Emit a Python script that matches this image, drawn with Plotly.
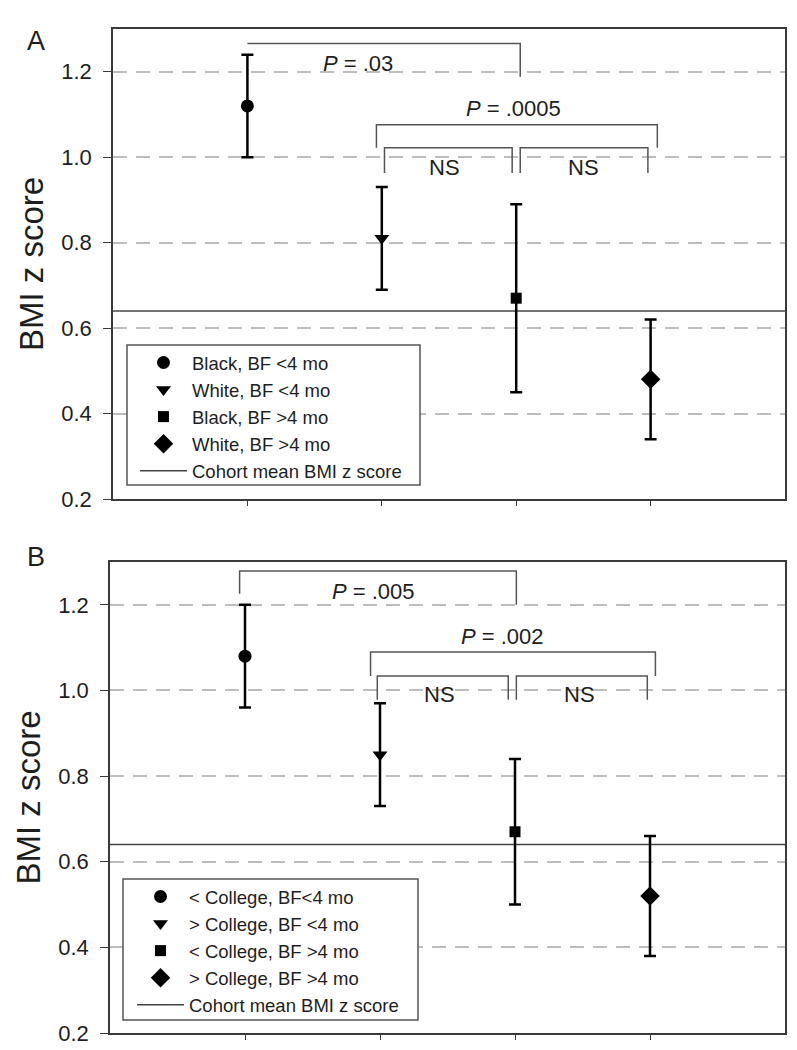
import plotly.graph_objects as go

# ---------------- data ----------------
groups_A = ["Black, BF <4 mo", "White, BF <4 mo", "Black, BF >4 mo", "White, BF >4 mo"]
groups_B = ["< College, BF<4 mo", "> College, BF <4 mo", "< College, BF >4 mo", "> College, BF >4 mo"]
positions = [1, 2, 3, 4]
symbols = ["circle", "triangle-down", "square", "diamond"]
sizes = [13, 13, 11, 15]

mean_A = [1.12, 0.81, 0.67, 0.48]
upper_A = [1.24, 0.93, 0.89, 0.62]
lower_A = [1.00, 0.69, 0.45, 0.34]

mean_B = [1.08, 0.85, 0.67, 0.52]
upper_B = [1.20, 0.97, 0.84, 0.66]
lower_B = [0.96, 0.73, 0.50, 0.38]

cohort_mean = 0.64
cohort_label = "Cohort mean BMI z score"

y_ticks = [0.2, 0.4, 0.6, 0.8, 1.0, 1.2]
y_range = [0.2, 1.3]
x_range = [0, 5]

# brackets: (x_left, x_right, y_bar, y_left_end, y_right_end)
brackets_A = [
    (1.00, 3.03, 1.266, 1.266, 1.188),
    (1.96, 4.05, 1.076, 1.022, 1.022),
    (2.02, 2.97, 1.022, 0.963, 0.963),
    (3.03, 3.98, 1.022, 0.963, 0.963),
]
labels_A = [("<i>P</i> = .03", 1.82, 1.219), ("<i>P</i> = .0005", 2.98, 1.113),
            ("NS", 2.47, 0.975), ("NS", 3.50, 0.975)]

brackets_B = [
    (0.96, 3.01, 1.279, 1.226, 1.200),
    (1.93, 4.04, 1.090, 1.034, 1.034),
    (1.98, 2.95, 1.034, 0.978, 0.978),
    (3.01, 3.98, 1.034, 0.978, 0.978),
]
labels_B = [("<i>P</i> = .005", 1.95, 1.230), ("<i>P</i> = .002", 2.91, 1.127),
            ("NS", 2.44, 0.990), ("NS", 3.48, 0.990)]

# ---------------- layout helpers ----------------
W, H = 797, 1050
FONT = "Liberation Sans, Arial, sans-serif"
DARK = "#3a3a3a"
TXT = "#1e1e1e"


def px_x(p):
    return p / W


def px_y(p):
    return 1 - p / H


fig = go.Figure()

panels = [
    dict(names=groups_A, mean=mean_A, up=upper_A, lo=lower_A, xa="x", ya="y", legend="legend",
         brackets=brackets_A, labels=labels_A),
    dict(names=groups_B, mean=mean_B, up=upper_B, lo=lower_B, xa="x2", ya="y2", legend="legend2",
         brackets=brackets_B, labels=labels_B),
]

shapes = []
annotations = []

for p in panels:
    # cohort mean line
    fig.add_trace(go.Scatter(
        x=x_range, y=[cohort_mean, cohort_mean], mode="lines",
        line=dict(color="#444444", width=1.5), name=cohort_label,
        xaxis=p["xa"], yaxis=p["ya"], legend=p["legend"], legendrank=10,
        hoverinfo="skip"))
    for i, name in enumerate(p["names"]):
        fig.add_trace(go.Scatter(
            x=[positions[i]], y=[p["mean"][i]], mode="markers",
            marker=dict(symbol=symbols[i], size=sizes[i], color="black"),
            error_y=dict(type="data", symmetric=False,
                         array=[p["up"][i] - p["mean"][i]],
                         arrayminus=[p["mean"][i] - p["lo"][i]],
                         color="black", thickness=2.5, width=6),
            name=name, xaxis=p["xa"], yaxis=p["ya"], legend=p["legend"], legendrank=i + 1))
    for (x0, x1, yb, yl, yr) in p["brackets"]:
        shapes.append(dict(type="path", xref=p["xa"], yref=p["ya"],
                           path=f"M {x0},{yl} L {x0},{yb} L {x1},{yb} L {x1},{yr}",
                           line=dict(color="#555555", width=1.5)))
    for (txt, xx, yy) in p["labels"]:
        annotations.append(dict(text=txt, x=xx, y=yy, xref=p["xa"], yref=p["ya"],
                                showarrow=False, font=dict(size=22, color=TXT, family=FONT)))

# legend boxes (white background with border)
shapes.append(dict(type="rect", xref="paper", yref="paper", layer="above",
                   x0=px_x(127), x1=px_x(420), y0=px_y(485), y1=px_y(345),
                   fillcolor="white", line=dict(color="#555555", width=1.5)))
shapes.append(dict(type="rect", xref="paper", yref="paper", layer="above",
                   x0=px_x(123), x1=px_x(418), y0=px_y(1020), y1=px_y(879),
                   fillcolor="white", line=dict(color="#555555", width=1.5)))

# panel letters
annotations.append(dict(text="A", x=px_x(25), y=px_y(24), xref="paper", yref="paper",
                        showarrow=False, font=dict(size=27, color=TXT, family=FONT)))
annotations.append(dict(text="B", x=px_x(25), y=px_y(557), xref="paper", yref="paper",
                        showarrow=False, font=dict(size=27, color=TXT, family=FONT)))

yaxis_common = dict(range=y_range, tickvals=y_ticks, tickformat=".1f", automargin=False,
                    ticks="outside", ticklen=8, tickcolor=DARK, tickwidth=1.2,
                    ticklabelstandoff=7,
                    showline=True, linecolor=DARK, linewidth=1.5, mirror=True,
                    showgrid=True, gridcolor="#bdbdbd", gridwidth=1.5, griddash="14px,9px",
                    zeroline=False, tickfont=dict(size=22, color=TXT, family=FONT),
                    title=dict(text="BMI z score", font=dict(size=33, color=TXT, family=FONT),
                               standoff=8))
xaxis_common = dict(range=x_range, tickvals=positions, showticklabels=False, automargin=False,
                    ticks="outside", ticklen=5, tickcolor=DARK, tickwidth=1.2,
                    showline=True, linecolor=DARK, linewidth=1.5, mirror=True,
                    showgrid=False, zeroline=False)

legend_common = dict(bgcolor="rgba(0,0,0,0)", borderwidth=0, xanchor="left", yanchor="top",
                     font=dict(size=18.5, color=TXT, family=FONT), itemwidth=47,
                     tracegroupgap=0)

fig.update_layout(
    width=W, height=H,
    margin=dict(l=0, r=0, t=0, b=0, autoexpand=False),
    paper_bgcolor="white", plot_bgcolor="white",
    font=dict(family=FONT, color=TXT),
    xaxis=dict(domain=[px_x(113), px_x(785)], anchor="y", **xaxis_common),
    yaxis=dict(domain=[px_y(499), px_y(29)], anchor="x", **yaxis_common),
    xaxis2=dict(domain=[px_x(110), px_x(785)], anchor="y2", **xaxis_common),
    yaxis2=dict(domain=[px_y(1033), px_y(562)], anchor="x2", **yaxis_common),
    legend=dict(x=px_x(135), y=px_y(344), **legend_common),
    legend2=dict(x=px_x(132), y=px_y(878), **legend_common),
    shapes=shapes, annotations=annotations,
    showlegend=True,
)

fig.write_html("out.html", config={"displayModeBar": False},
               post_script="document.body.style.margin='0px';document.body.style.padding='0px';")
